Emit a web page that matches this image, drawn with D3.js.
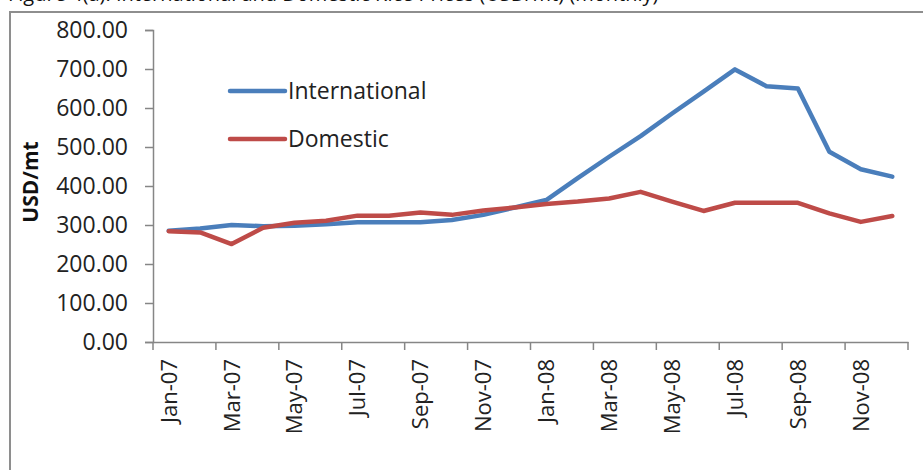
<!DOCTYPE html>
<html>
<head>
<meta charset="utf-8">
<script src="https://cdn.jsdelivr.net/npm/d3@7"></script>
<style>
  body { margin: 0; background: #fff; }
  svg { display: block; font-family: "Open Sans", sans-serif; }
</style>
</head>
<body>
<svg width="923" height="470"></svg>
<script>
// monthly prices, USD/mt
const months = ['Jan-07','Feb-07','Mar-07','Apr-07','May-07','Jun-07','Jul-07','Aug-07','Sep-07','Oct-07','Nov-07','Dec-07',
                'Jan-08','Feb-08','Mar-08','Apr-08','May-08','Jun-08','Jul-08','Aug-08','Sep-08','Oct-08','Nov-08','Dec-08'];
const international = [285, 291, 300, 297, 298, 302, 307, 307, 307, 313, 326, 345,
                       364, 420, 475, 528, 586, 642, 699, 656, 650, 488, 443, 424];
const domestic = [284, 281, 251, 293, 306, 311, 324, 324, 332, 326, 337, 345,
                  354, 360, 368, 385, 360, 336, 357, 357, 357, 330, 308, 323];
const yTicks = [0, 100, 200, 300, 400, 500, 600, 700, 800];

var svg = d3.select('svg');
var axisColor = '#868686';

// outer frame of the figure (cut off on the right and bottom)
svg.append('rect')
  .attr('x', 10).attr('y', 12)
  .attr('width', 940).attr('height', 480)
  .attr('fill', 'none')
  .attr('stroke', '#8e8e8e')
  .attr('stroke-width', 2);

// caption above the frame, cut off by the crop like in the original
svg.append('text')
  .attr('x', 8).attr('y', 1)
  .attr('font-size', '20px')
  .attr('fill', '#111')
  .text('Figure 4(a): International and Domestic Rice Prices (USD/mt) (monthly)');

var x = d3.scaleBand().domain(months).range([153, 908]).padding(0);
var y = d3.scaleLinear().domain([0, 800]).range([342, 30]);

// y axis
var yAxis = svg.append('g')
  .attr('transform', 'translate(153,0)')
  .call(d3.axisLeft(y).tickValues(yTicks).tickFormat(d3.format('.2f')).tickSize(8).tickPadding(17));
yAxis.select('.domain').attr('stroke', axisColor).attr('stroke-width', 1.5);
yAxis.selectAll('.tick line').attr('stroke', axisColor).attr('stroke-width', 1.5);
yAxis.selectAll('.tick text')
  .attr('font-family', '"Open Sans", sans-serif')
  .attr('font-size', '23px')
  .attr('fill', '#222');

// x axis: labels every 2nd month, tick marks at band edges
var labelled = months.filter((d, i) => i % 2 === 0);
var xAxis = svg.append('g')
  .attr('transform', 'translate(0,342)')
  .call(d3.axisBottom(x).tickValues(labelled).tickSize(0).tickSizeOuter(0));
xAxis.select('.domain').attr('stroke', axisColor).attr('stroke-width', 1.5);
xAxis.selectAll('.tick text')
  .attr('font-family', '"Open Sans", sans-serif')
  .attr('font-size', '22px')
  .attr('fill', '#222')
  .attr('transform', 'rotate(-90)')
  .attr('text-anchor', 'end')
  .attr('x', -17)
  .attr('y', 0)
  .attr('dy', '0.36em');

var edges = labelled.map(m => x(m)).concat([x.range()[1]]);
xAxis.selectAll('.edge')
  .data(edges)
  .enter()
  .append('line')
  .attr('class', 'edge')
  .attr('x1', d => d).attr('x2', d => d)
  .attr('y1', 0).attr('y2', 8)
  .attr('stroke', axisColor)
  .attr('stroke-width', 1.5);

// y axis title
svg.append('text')
  .attr('transform', 'translate(38,182) rotate(-90)')
  .attr('text-anchor', 'middle')
  .attr('font-size', '21px')
  .attr('font-weight', 'bold')
  .attr('fill', '#111')
  .text('USD/mt');

// lines
var line = d3.line()
  .x((d, i) => x(months[i]) + x.bandwidth() / 2)
  .y(d => y(d));

var series = [
  { name: 'International', values: international, color: '#4a7ebb' },
  { name: 'Domestic', values: domestic, color: '#be4b48' }
];

series.forEach(function(s) {
  svg.append('path')
    .datum(s.values)
    .attr('fill', 'none')
    .attr('stroke', s.color)
    .attr('stroke-width', 4.5)
    .attr('stroke-linejoin', 'round')
    .attr('stroke-linecap', 'round')
    .attr('d', line);
});

// legend
var legend = svg.append('g').attr('transform', 'translate(230,91)');
series.forEach(function(s, i) {
  var g = legend.append('g').attr('transform', `translate(0, ${i * 48})`);
  g.append('line')
    .attr('x1', 0).attr('x2', 55)
    .attr('y1', 0).attr('y2', 0)
    .attr('stroke', s.color)
    .attr('stroke-width', 4.5)
    .attr('stroke-linecap', 'round');
  g.append('text')
    .attr('x', 58)
    .attr('y', 8)
    .attr('font-size', '23px')
    .attr('fill', '#222')
    .text(s.name);
});
</script>
</body>
</html>
